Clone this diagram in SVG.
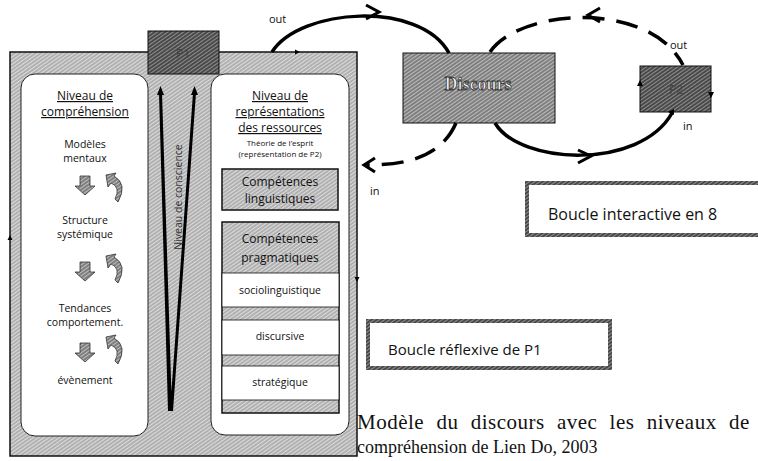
<svg xmlns="http://www.w3.org/2000/svg" width="758" height="461" viewBox="0 0 758 461">
<defs>
<pattern id="hL" width="3" height="3" patternUnits="userSpaceOnUse" patternTransform="rotate(-35)">
<rect width="3" height="3" fill="#dcdcdc"/><line x1="0" y1="1" x2="3" y2="1" stroke="#7a7a7a" stroke-width="0.9"/>
</pattern>
<pattern id="hM" width="3" height="3" patternUnits="userSpaceOnUse" patternTransform="rotate(-35)">
<rect width="3" height="3" fill="#bdbdbd"/><line x1="0" y1="1" x2="3" y2="1" stroke="#555" stroke-width="1.2"/>
</pattern>
<pattern id="hD" width="3" height="3" patternUnits="userSpaceOnUse" patternTransform="rotate(-35)">
<rect width="3" height="3" fill="#8f8f8f"/><line x1="0" y1="1" x2="3" y2="1" stroke="#2a2a2a" stroke-width="1.4"/>
</pattern>
<style>
.t{font-family:"Open Sans","Liberation Sans",sans-serif;fill:#111;text-anchor:middle}
.s11{font-size:10.5px}
.s12{font-size:12px}
.s8{font-size:8px}
.u{text-decoration:underline}
.panel{fill:#fff;stroke:#222;stroke-width:1}
.conn{fill:none;stroke:#000;stroke-width:3.5}
.dash{stroke-dasharray:22 12}
.chev{fill:none;stroke:#000;stroke-width:3}
.darr{fill:url(#hM);stroke:#333;stroke-width:0.8}
.lbl{font-family:"Open Sans","Liberation Sans",sans-serif;fill:#111}
</style>
</defs>

<g id="outer">
<rect x="10" y="52" width="347" height="404" fill="url(#hL)" stroke="#111" stroke-width="1.5"/>
<path d="M10,235 l-2.5,5 h5 z M357,282 l-2.5,-5 h5 z M300,52 l-5,-2.5 v5 z" fill="#000"/>
</g>

<g id="p1">
<rect x="148" y="31" width="71" height="43" fill="url(#hD)" stroke="#111" stroke-width="1"/>
<text x="183" y="58" class="t s12" style="fill:#444">P1</text>
</g>

<g id="left-panel">
<rect x="21" y="74" width="127" height="362" rx="14" class="panel"/>
<text x="85" y="100" class="t s12 u">Niveau de</text>
<text x="85" y="116" class="t s12 u">compréhension</text>
<text x="85" y="148" class="t s11">Modèles</text>
<text x="85" y="162" class="t s11">mentaux</text>
<path d="M80,176 h10 v10 h5 l-10,9 l-10,-9 h5 z" class="darr"/>
<path d="M114,176 q14,8 4,26 l-3,-3 q6,-12 -4,-16 l-3,4 l-2,-12 l10,-2 z" class="darr"/>
<text x="85" y="224" class="t s11">Structure</text>
<text x="85" y="238" class="t s11">systémique</text>
<path d="M80,262 h10 v10 h5 l-10,9 l-10,-9 h5 z" class="darr"/>
<path d="M114,257 q14,8 4,26 l-3,-3 q6,-12 -4,-16 l-3,4 l-2,-12 l10,-2 z" class="darr"/>
<text x="85" y="312" class="t s11">Tendances</text>
<text x="85" y="326" class="t s11">comportement.</text>
<path d="M80,343 h10 v10 h5 l-10,9 l-10,-9 h5 z" class="darr"/>
<path d="M114,338 q14,8 4,26 l-3,-3 q6,-12 -4,-16 l-3,4 l-2,-12 l10,-2 z" class="darr"/>
<text x="85" y="384" class="t s11">évènement</text>
</g>

<g id="conscience">
<path d="M168,411 L159,93 L162,93 L172,411 Z M170,411 L193,93 L196,93 L173,411 Z" fill="#000"/>
<path d="M160.5,86 l-3.5,9 h7 z M194.5,86 l-3.5,9 h7 z" fill="#000"/>
<text transform="translate(182,197) rotate(-90)" class="t s11" style="fill:#333">Niveau de conscience</text>
</g>

<g id="right-panel">
<rect x="211" y="74" width="138" height="361" rx="14" class="panel"/>
<text x="280" y="100" class="t s12 u">Niveau de</text>
<text x="280" y="116" class="t s12 u">représentations</text>
<text x="280" y="132" class="t s12 u">des ressources</text>
<text x="280" y="146" class="t s8">Théorie de l’esprit</text>
<text x="280" y="157" class="t s8">(représentation de P2)</text>
</g>

<g id="ling">
<rect x="222" y="169" width="116" height="41" fill="url(#hL)" stroke="#111" stroke-width="1.5"/>
<text x="280" y="186" class="t s12">Compétences</text>
<text x="280" y="203" class="t s12">linguistiques</text>
</g>

<g id="prag">
<rect x="222" y="222" width="117" height="191" fill="url(#hL)" stroke="#111" stroke-width="1.5"/>
<text x="280" y="243" class="t s12">Compétences</text>
<text x="280" y="262" class="t s12">pragmatiques</text>
<rect x="222" y="273" width="117" height="34" fill="#fff" stroke="#111" stroke-width="0.8"/>
<text x="280" y="294" class="t s11">sociolinguistique</text>
<rect x="222" y="320" width="117" height="35" fill="#fff" stroke="#111" stroke-width="0.8"/>
<text x="280" y="340" class="t s11">discursive</text>
<rect x="222" y="366" width="117" height="34" fill="#fff" stroke="#111" stroke-width="0.8"/>
<text x="280" y="386" class="t s11">stratégique</text>
</g>

<g id="discours">
<rect x="403" y="53" width="152" height="70" fill="url(#hM)" stroke="#111" stroke-width="1"/>
<text x="478" y="90" font-family="Liberation Serif, serif" font-size="18" font-weight="bold" text-anchor="middle" fill="#f4f4f4" stroke="#333" stroke-width="0.8">Discours</text>
</g>

<g id="p2">
<rect x="640" y="66" width="71" height="46" fill="url(#hD)" stroke="#111" stroke-width="1"/>
<text x="676" y="94" class="t s12" style="fill:#444">P2</text>
<path d="M640,80 l-3,6 h6 z M711,98 l-3,-6 h6 z M668,112 l6,-3 v6 z" fill="#000"/>
</g>

<g id="connectors">
<path d="M272,52 C300,8 420,0 449,53" class="conn"/>
<path d="M366,5 L379,12 L366,19" class="chev"/>
<path d="M490,52 C520,8 650,0 683,65" class="conn dash"/>
<path d="M600,8 L588,15 L600,22" class="chev"/>
<path d="M495,123 C520,165 640,170 672,113" class="conn"/>
<path d="M578,150 L591,156 L578,163" class="chev"/>
<path d="M456,123 C440,160 400,165 367,165" class="conn dash"/>
<path d="M375,158 L364,165 L375,172" class="chev"/>
</g>

<g id="labels" font-size="11">
<text x="269" y="23" class="lbl">out</text>
<text x="670" y="49" class="lbl">out</text>
<text x="683" y="130" class="lbl">in</text>
<text x="370" y="195" class="lbl">in</text>
</g>

<g id="boucle-interactive">
<rect x="527" y="183" width="240" height="52" fill="#fff" stroke="url(#hD)" stroke-width="4"/>
<text x="548" y="220" class="lbl" font-size="16">Boucle interactive en 8</text>
</g>

<g id="boucle-reflexive">
<rect x="368" y="321" width="242" height="47" fill="#fff" stroke="url(#hD)" stroke-width="4"/>
<text x="388" y="355" class="lbl" font-size="15">Boucle réflexive de P1</text>
</g>

<g id="caption" font-family="Liberation Serif, serif" fill="#111">
<text x="357" y="429" font-size="21" letter-spacing="0.5" word-spacing="6.5">Modèle du discours avec les niveaux de</text>
<text x="357" y="453" font-size="18">compréhension de Lien Do, 2003</text>
</g>
</svg>
